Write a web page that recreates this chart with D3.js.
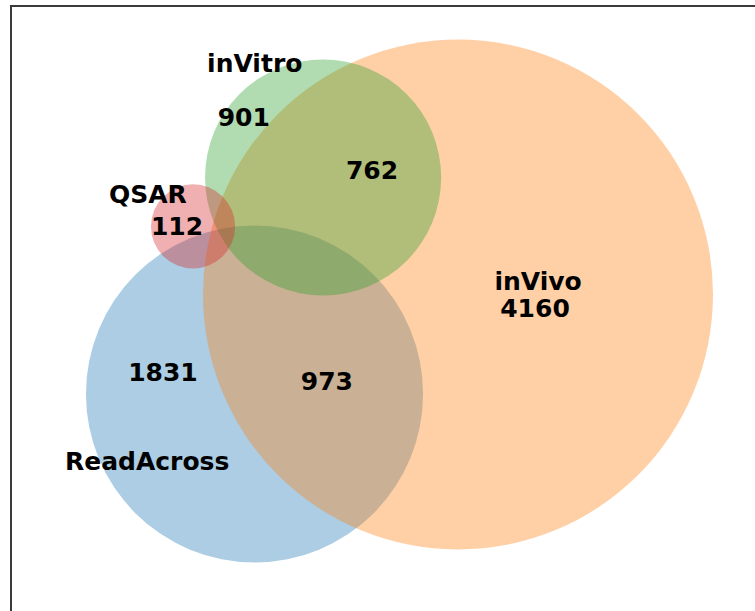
<!DOCTYPE html>
<html>
<head>
<meta charset="utf-8">
<script src="https://cdn.jsdelivr.net/npm/d3@7"></script>
<style>
	body { margin: 0; background: #fff; }
	text { font-family: "DejaVu Sans", sans-serif; font-weight: bold; }
</style>
</head>
<body>
<svg id="venn"></svg>
<script>
// sets, in drawing order (units: inVivo radius = 1, origin at inVivo centre)
const setNames = ["ReadAcross", "inVivo", "inVitro", "QSAR"];
const setColors = ["#1f77b4", "#ff7f0e", "#2ca02c", "#d62728"];
const setCx = [-0.798, 0, -0.529, -1.039];
const setCy = [-0.390, 0, 0.459, 0.267];
const setR = [0.661, 1.0, 0.463, 0.165];

// set name labels
const nameLabels = ["ReadAcross", "inVivo", "inVitro", "QSAR"];
const nameX = [-1.219, 0.314, -0.797, -1.216];
const nameY = [-0.690, 0.016, 0.871, 0.357];

// region counts
const countLabels = ["901", "762", "112", "1831", "973", "4160"];
const countX = [-0.840, -0.337, -1.102, -1.157, -0.514, 0.302];
const countY = [0.659, 0.451, 0.235, -0.341, -0.373, -0.090];

const width = 755, height = 611;

const svg = d3.select("#venn")
	.attr("width", width)
	.attr("height", height);

const x = d3.scaleLinear().domain([-1.5, 1.0]).range([75.5, 713]);
const y = d3.scaleLinear().domain([-1, 1]).range([549.5, 39.5]);
const r = d3.scaleLinear().domain([0, 1]).range([0, 255]);

// frame (right and bottom edges fall outside the picture)
svg.append("path")
	.attr("d", `M11,${height + 5} L11,6 L${width + 5},6`)
	.attr("fill", "none")
	.attr("stroke", "#3a3a3a")
	.attr("stroke-width", 2);

const sets = setNames.map((d, i) => ({ name: d, color: setColors[i], cx: setCx[i], cy: setCy[i], r: setR[i] }));

svg.append("g")
	.selectAll("circle")
	.data(sets)
	.enter().append("circle")
	.attr("cx", d => x(d.cx))
	.attr("cy", d => y(d.cy))
	.attr("r", d => r(d.r))
	.attr("fill", d => d.color)
	.attr("fill-opacity", 0.37);

const names = nameLabels.map((d, i) => ({ text: d, x: nameX[i], y: nameY[i] }));
const counts = countLabels.map((d, i) => ({ text: d, x: countX[i], y: countY[i] }));

svg.append("g")
	.selectAll("text")
	.data(names.concat(counts))
	.enter().append("text")
	.attr("x", d => x(d.x))
	.attr("y", d => y(d.y))
	.attr("text-anchor", "middle")
	.attr("font-size", "25px")
	.attr("fill", "#000")
	.text(d => d.text);
</script>
</body>
</html>
